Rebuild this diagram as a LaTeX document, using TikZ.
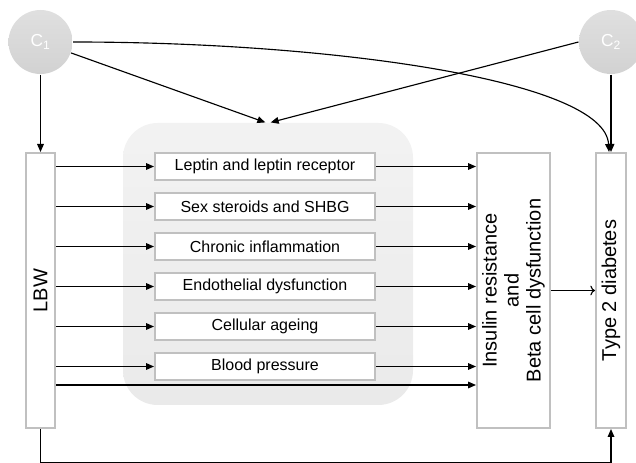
\documentclass[tikz,border=0pt]{standalone}
\usepackage{fontspec}
\setmainfont{Liberation Sans}
\usetikzlibrary{arrows.meta}

\definecolor{boxgray}{RGB}{192,192,192}
\definecolor{bggray}{RGB}{234,234,234}
\definecolor{confgray}{RGB}{210,210,210}

\tikzset{every picture/.style={line width=0.85pt}}
\tikzset{
  conf/.style={circle, minimum size=48pt, inner sep=0pt, top color=confgray!70, bottom color=confgray, text=white, font=\fontsize{13}{15}\selectfont},
  tallbox/.style={draw=boxgray, line width=1.5pt, fill=white, rotate=90, inner sep=0pt, align=center, minimum width=206.25pt, font=\fontsize{15}{16.5}\selectfont},
  medbox/.style={draw=boxgray, line width=1.5pt, fill=white, minimum width=165pt, minimum height=20.25pt, inner sep=0pt, font=\fontsize{12}{14}\selectfont},
  arr/.style={-{Triangle[length=6pt,width=5pt]}},
}

\begin{document}
\begin{tikzpicture}[x=0.75pt,y=0.75pt,yscale=-1,xscale=1]
\useasboundingbox (0,0) rectangle (636,463);

%Rounded Rect: mechanisms
\node[top color=bggray!60, bottom color=bggray, rounded corners=26pt, minimum width=217.5pt, minimum height=211.5pt] (mech) at (268,264) {};

%Circles: confounders
\node[conf] (c1) at (40.5,42) {C\textsubscript{1}};
\node[conf] (c2) at (611,42) {C\textsubscript{2}};

%Tall boxes
\node[tallbox, minimum height=21.75pt] (lbw) at (40.5,290.5) {LBW};
\node[tallbox, minimum height=54.75pt] (ins) at (513.5,290.5) {Insulin resistance\\and\\Beta cell dysfunction};
\node[tallbox, minimum height=22.5pt] (t2d) at (611,290.5) {Type 2 diabetes};

%Mediator boxes and their arrows
\foreach \name/\txt [count=\i from 0] in {lep/Leptin and leptin receptor, sex/Sex steroids and SHBG, infl/Chronic inflammation, endo/Endothelial dysfunction, age/Cellular ageing, bp/Blood pressure}
{
  \node[medbox] (\name) at (265,166.5+40*\i) {\txt};
  \draw[arr] (lbw.south |- \name.west) -- (\name.west);
  \draw[arr] (\name.east) -- (ins.north |- \name.east);
}

%Direct path LBW to insulin
\coordinate (direct) at (300,385);
\draw[arr] (lbw.south |- direct) -- (ins.north |- direct);

%Straight Lines from confounders
\draw[arr] (c1) -- (lbw.east);
\draw[arr] (c1) -- ([xshift=-2pt]mech.north);
\draw[arr] (c2.west) -- ([xshift=2pt]mech.north);
\draw[arr] (c2) -- (t2d.east);
%Curve C1 to diabetes
\draw[arr] (c1.east) .. controls (330,42) and (605,80) .. ([xshift=-1.5pt]t2d.east);

%Insulin to diabetes
\draw[->] (ins.south) -- (t2d.north);

%Bottom path LBW to diabetes
\draw[arr] (lbw.west) -- ++(0,34) -| (t2d.west);

\end{tikzpicture}
\end{document}
